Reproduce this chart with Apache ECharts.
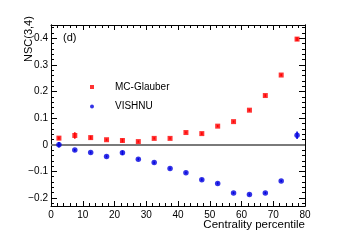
<!DOCTYPE html>
<html>
<head>
<meta charset="utf-8">
<script src="https://cdn.jsdelivr.net/npm/echarts@6/dist/echarts.min.js"></script>
<style>html,body{margin:0;padding:0;background:#fff;}#c{width:339px;height:243px;}</style>
</head>
<body>
<div id="c"></div>
<script>
var centrality = [2.5,7.5,12.5,17.5,22.5,27.5,32.5,37.5,42.5,47.5,52.5,57.5,62.5,67.5,72.5,77.5];
var mcGlauber = [0.025,0.035,0.027,0.019,0.016,0.012,0.024,0.024,0.046,0.042,0.070,0.087,0.130,0.185,0.262,0.397];
var mcGlauberErr = [0.005,0.012,0.007,0.004,0.007,0.004,0.004,0.004,0.004,0.005,0.004,0.004,0.004,0.005,0.005,0.007];
var vishnu = [0.000,-0.020,-0.029,-0.044,-0.030,-0.054,-0.067,-0.089,-0.105,-0.131,-0.145,-0.181,-0.187,-0.181,-0.136,0.036];
var vishnuErr = [0.010,0.004,0.004,0.004,0.008,0.004,0.004,0.004,0.004,0.004,0.004,0.004,0.004,0.004,0.004,0.014];
var yTicks = [-0.2,-0.1,0,0.1,0.2,0.3,0.4];
var xTicks = [0,10,20,30,40,50,60,70,80];
var yMinorTicks = [];
for (var k = -11; k <= 22; k++) { yMinorTicks.push(Math.round(k*2)/100); }

var FONT = "'Liberation Sans', Arial, sans-serif";
var RED = '#ff0000', BLUE = '#0000e0';

function pts(vals){ return centrality.map(function(x,i){ return [x, vals[i]]; }); }
function errPts(vals, errs){ return centrality.map(function(x,i){ return [x, vals[i]-errs[i], vals[i]+errs[i]]; }); }
function errRender(color){
  return function(params, api){
    var lo = api.coord([api.value(0), api.value(1)]);
    var hi = api.coord([api.value(0), api.value(2)]);
    return {type:'line', shape:{x1:lo[0],y1:lo[1],x2:hi[0],y2:hi[1]}, style:{stroke:color, lineWidth:1.5}};
  };
}
function yAx(pos, major, labels){
  return {
    type:'value', position:pos, min:-0.23, max:0.45,
    axisLine:{show:true, onZero:false, lineStyle:{color:'#000', width:1}},
    axisTick:{show:true, inside:true, length: major?6:3, customValues: major?yTicks:yMinorTicks, lineStyle:{color:'#000', width:1}},
    axisLabel:{show:labels, customValues:yTicks, margin:3, fontFamily:FONT, fontSize:10, color:'#000',
      formatter:function(v){ var s = (Math.round(v*10)/10).toString(); return s.replace('-', '\u2212'); }},
    splitLine:{show:false}
  };
}
function xAx(pos, labels){
  return {
    type:'value', position:pos, min:0, max:80, interval:10,
    axisLine:{show:true, onZero:false, lineStyle:{color:'#000', width:1}},
    axisTick:{show:true, inside:true, length:5, lineStyle:{color:'#000', width:1}},
    minorTick:{show:true, splitNumber:5, length:3, lineStyle:{color:'#000', width:1}},
    axisLabel:{show:labels, customValues:xTicks, margin:4, fontFamily:FONT, fontSize:10, color:'#000'},
    splitLine:{show:false}
  };
}

var chart = echarts.init(document.getElementById('c'), null, {renderer:'canvas'});
chart.setOption({
  animation:false,
  backgroundColor:'#fff',
  grid:{left:51, right:34, top:25, bottom:37},
  xAxis:[xAx('bottom', true), xAx('top', false)],
  yAxis:[yAx('left', true, true), yAx('left', false, false), yAx('right', true, false), yAx('right', false, false)],
  legend:{
    orient:'vertical', left:85, top:76, itemWidth:4, itemHeight:4, itemGap:7.4,
    textStyle:{fontFamily:FONT, fontSize:10, color:'#000', lineHeight:12, padding:[0,0,0,16]},
    data:[{name:'MC-Glauber', icon:'rect'}, {name:'VISHNU', icon:'circle'}]
  },
  graphic:[
    {type:'text', left:63, top:32, style:{text:'(d)', font:'11px '+FONT, fill:'#000'}},
    {type:'text', x:34, y:62, rotation:Math.PI/2, style:{text:'NSC(3,4)', font:'11px '+FONT, fill:'#000', textAlign:'left', textVerticalAlign:'bottom'}},
    {type:'text', x:305, y:225, style:{text:'Centrality percentile', font:'11.5px '+FONT, fill:'#000', textAlign:'right', textVerticalAlign:'middle'}}
  ],
  series:[
    {type:'custom', name:'errG', renderItem:errRender(RED), data:errPts(mcGlauber, mcGlauberErr), encode:{x:0, y:[1,2]}, z:3, silent:true},
    {type:'custom', name:'errV', renderItem:errRender(BLUE), data:errPts(vishnu, vishnuErr), encode:{x:0, y:[1,2]}, z:3, silent:true},
    {type:'scatter', name:'MC-Glauber', data:pts(mcGlauber), symbol:'rect', symbolSize:5, itemStyle:{color:RED}, z:4,
      markLine:{silent:true, symbol:'none', label:{show:false}, lineStyle:{color:'#7a7a7a', width:2, type:'solid'}, data:[{yAxis:0}], z:2}},
    {type:'scatter', name:'VISHNU', data:pts(vishnu), symbol:'circle', symbolSize:5.5, itemStyle:{color:BLUE}, z:4}
  ]
});
</script>
</body>
</html>
